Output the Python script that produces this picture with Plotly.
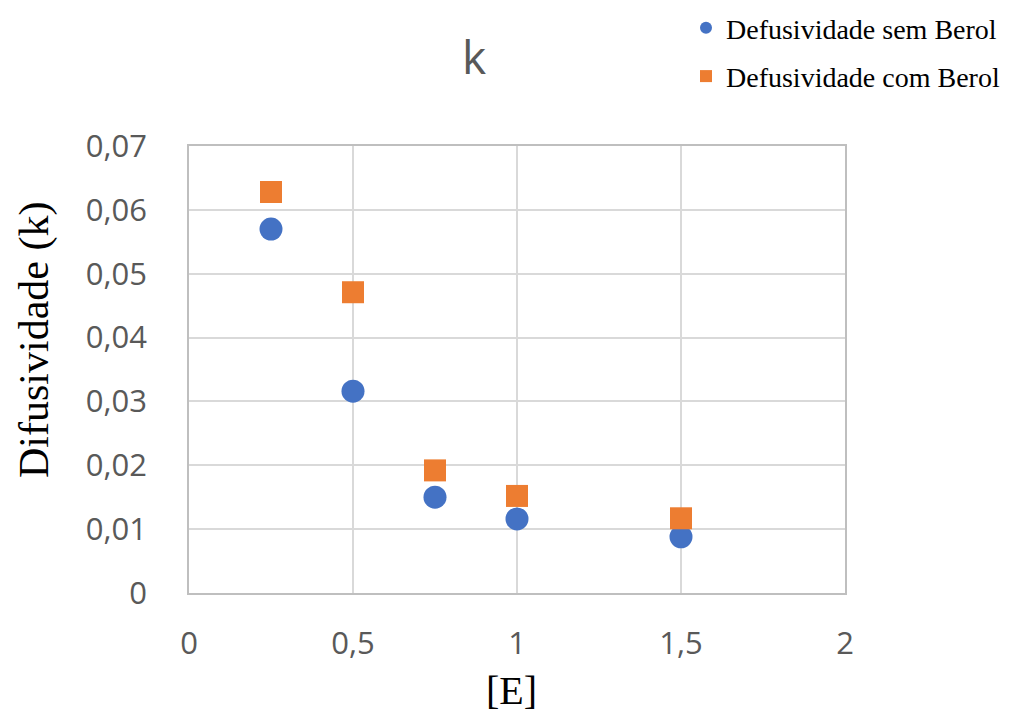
import plotly.graph_objects as go

# Concentration [E] and diffusivity k for both conditions
conc = [0.25, 0.5, 0.75, 1.0, 1.5]
k_sem_berol = [0.057, 0.0316, 0.0150, 0.0116, 0.0088]
k_com_berol = [0.0628, 0.0471, 0.0192, 0.0152, 0.0117]

x_ticks = [0, 0.5, 1, 1.5, 2]
y_ticks = [0, 0.01, 0.02, 0.03, 0.04, 0.05, 0.06, 0.07]

BLUE = "#4472C4"
ORANGE = "#ED7D31"
GRID = "#D9D9D9"
TICK_GRAY = "#595959"
W, H = 1031, 712
L, R, T, B = 189, 186, 146, 119

fig = go.Figure()
fig.add_trace(go.Scatter(
    x=conc, y=k_sem_berol, mode="markers", name="Defusividade sem Berol",
    legendgroup="a",
    marker=dict(symbol="circle", size=23, color=BLUE),
))
fig.add_trace(go.Scatter(
    x=conc, y=k_com_berol, mode="markers", name="Defusividade com Berol",
    legendgroup="b",
    marker=dict(symbol="square", size=22, color=ORANGE),
))

axis_common = dict(
    showgrid=True, gridcolor=GRID, gridwidth=1.5,
    showline=True, linecolor="#BFBFBF", linewidth=1.5, mirror=True,
    zeroline=False, ticks="",
    tickfont=dict(family="Open Sans, Liberation Sans, sans-serif", size=31, color=TICK_GRAY),
)

pw, ph = W - L - R, H - T - B  # plot area size in px


def px_x(px):
    return (px - L) / pw


def px_y(py):
    return (H - B - py) / ph


serif = dict(family="Liberation Serif, serif", color="black")

fig.update_layout(
    width=W, height=H,
    paper_bgcolor="white", plot_bgcolor="white",
    separators=",.",
    margin=dict(l=L, r=R, t=T, b=B, autoexpand=False),
    title=dict(
        text="k", x=px_x(474), xref="paper", xanchor="center",
        y=1 - 58 / H, yref="container", yanchor="middle",
        font=dict(family="Open Sans, sans-serif", size=46, color=TICK_GRAY),
    ),
    xaxis=dict(range=[0, 2], tickvals=x_ticks, ticklabelstandoff=22, **axis_common),
    yaxis=dict(range=[0, 0.07], tickvals=y_ticks, ticklabelstandoff=34, **axis_common),
    legend=dict(
        x=px_x(686), xanchor="left",
        y=px_y(3), yanchor="top",
        font=dict(family="Liberation Serif, serif", size=28, color="black"),
        tracegroupgap=9, itemsizing="constant",
        bgcolor="rgba(0,0,0,0)",
    ),
    annotations=[
        dict(text="[E]", x=px_x(511), y=px_y(690), xref="paper", yref="paper",
             xanchor="center", yanchor="middle", showarrow=False,
             font=dict(size=40, **serif)),
        dict(text="Difusividade (k)", x=px_x(34), y=px_y(340), xref="paper", yref="paper",
             xanchor="center", yanchor="middle", showarrow=False, textangle=-90,
             font=dict(size=42, **serif)),
    ],
)

fig.write_html("out.html")
